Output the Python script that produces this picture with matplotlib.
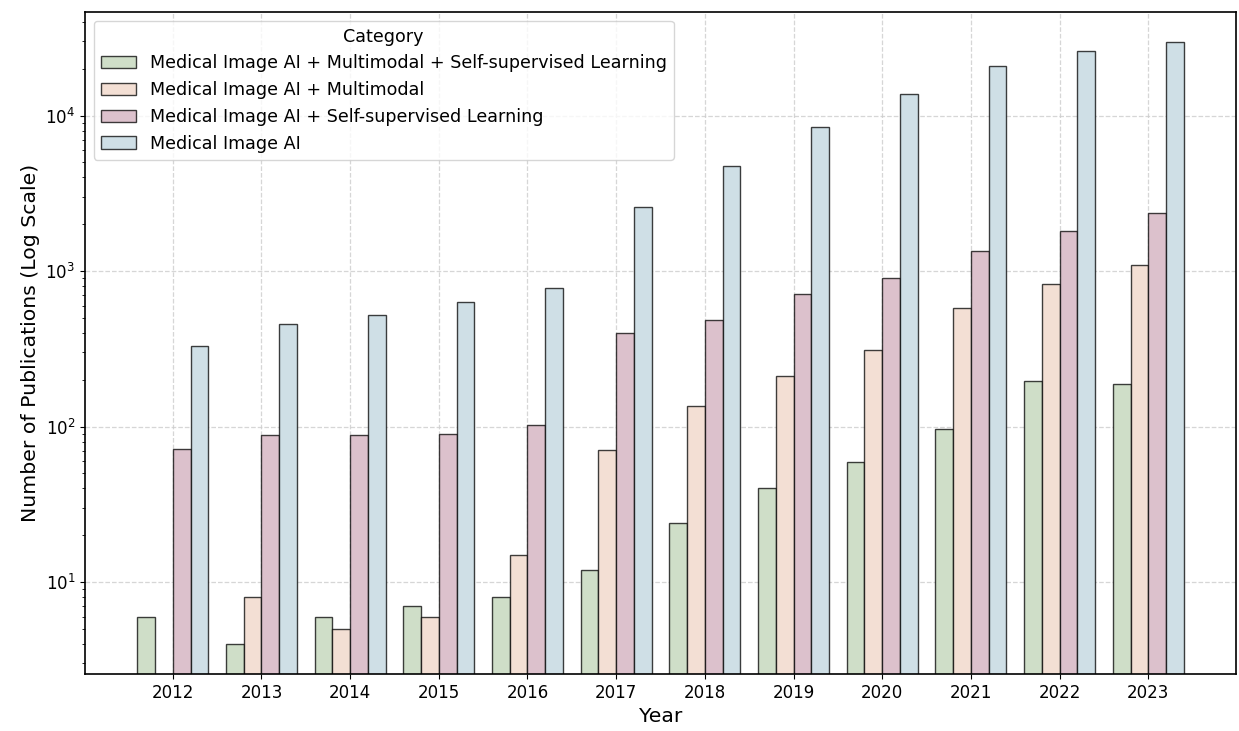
import numpy as np
import matplotlib
matplotlib.use("Agg")
import matplotlib.pyplot as plt

years = [2012, 2013, 2014, 2015, 2016, 2017, 2018, 2019, 2020, 2021, 2022, 2023]
categories = [
    "Medical Image AI + Multimodal + Self-supervised Learning",
    "Medical Image AI + Multimodal",
    "Medical Image AI + Self-supervised Learning",
    "Medical Image AI",
]
mm_ssl = [6, 4, 6, 7, 8, 12, 24, 40, 59, 96, 195, 187]
mm = [np.nan, 8, 5, 6, 15, 71, 135, 212, 309, 576, 824, 1094]
ssl = [72, 88, 88, 89, 103, 397, 484, 708, 906, 1340, 1815, 2350]
med_ai = [330, 458, 524, 633, 781, 2590, 4730, 8430, 13700, 20800, 26200, 29700]
series = [mm_ssl, mm, ssl, med_ai]
colors = ["#cfdec8", "#f3dfd4", "#dcc1cc", "#cfdfe6"]

fig, ax = plt.subplots(figsize=(12.39, 7.31), dpi=100)
fig.subplots_adjust(left=0.0686, right=0.9976, top=0.9836, bottom=0.078)

x = np.arange(len(years))
w = 0.2
for i, (vals, lab, c) in enumerate(zip(series, categories, colors)):
    ax.bar(x + (i - 1.5) * w, vals, width=w, color=c, edgecolor=(0, 0, 0, 0.75),
           linewidth=1.0, label=lab, zorder=2)

ax.set_yscale("log")
ax.set_xticks(x)
ax.set_xticklabels([str(y) for y in years])
ax.tick_params(axis="both", labelsize=12)
ax.set_xlabel("Year", fontsize=14.7)
ax.set_ylabel("Number of Publications (Log Scale)", fontsize=14.7)
ax.grid(True, which="major", linestyle="--", color="#cccccc", alpha=0.8, linewidth=0.9)
ax.set_axisbelow(True)
for s in ax.spines.values():
    s.set_linewidth(1.2)

leg = ax.legend(title="Category", loc="upper left", fontsize=12.6, title_fontsize=12.6)

fig.savefig("out.png", dpi=100)
